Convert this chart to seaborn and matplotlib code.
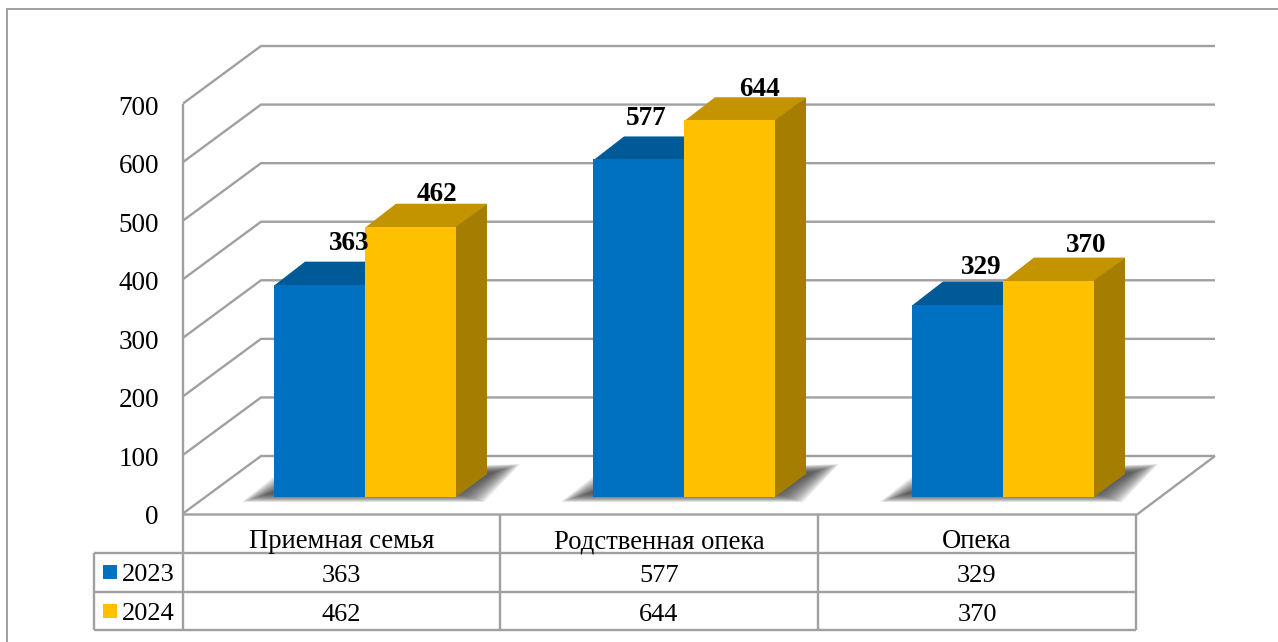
import numpy as np
import pandas as pd
import seaborn as sns
from matplotlib import pyplot as plt
from matplotlib.patches import Polygon, Rectangle

categories = ['Приемная семья', 'Родственная опека', 'Опека']
years = ['2023', '2024']
values_2023 = [363, 577, 329]
values_2024 = [462, 644, 370]
y_ticks = [0, 100, 200, 300, 400, 500, 600, 700]

# hand placed label offsets from the middle of each bar top, in pixels
label_dx = [[30, 8, 24], [26, 30, 38]]
label_dy = [[41, 41, 37], [32, 31, 35]]

BLUE = ['#0070C0', '#005A97', '#00538C']
YELLOW = ['#FFC000', '#C49300', '#A57D00']
GRID = '#A0A0A0'
SERIF = 'Liberation Serif'

W, H = 1278, 642
sns.set_style('white')
plt.rcParams['font.family'] = [SERIF, 'DejaVu Sans']

df = pd.DataFrame({
    'category': categories * 2,
    'year': [years[0]] * 3 + [years[1]] * 3,
    'value': values_2023 + values_2024,
})

fig = plt.figure(figsize=(W / 100, H / 100), dpi=100)

# background layer in pixel coordinates: frame, walls, data table
bg = fig.add_axes([0, 0, 1, 1], zorder=0)
bg.set_xlim(0, W)
bg.set_ylim(H, 0)
bg.axis('off')


def line(xs, ys, lw=1.7):
    bg.plot(xs, ys, color=GRID, lw=lw, solid_joinstyle='miter', solid_capstyle='butt')


line([7, 7, W], [H, 9, 9], lw=1.4)

FRONT_X, BACK_X, RIGHT_X, TABLE_R = 183, 261, 1215, 1137
for v in y_ticks:
    yf = 513.5 - 0.5857 * v
    line([FRONT_X, BACK_X, RIGHT_X], [yf, yf - 57.5, yf - 57.5])
    bg.text(159, yf + 4.5, str(v), ha='right', va='center', fontsize=19.5, color='black')
line([FRONT_X, FRONT_X], [103.5, 630])
line([FRONT_X, TABLE_R, RIGHT_X], [514.5, 514.5, 456])

# data table
col_x = [183, 500, 818, 1136]
row_y = [514.5, 553, 592, 630]
for x in col_x[1:]:
    line([x, x], [row_y[0], row_y[3]])
line([94, 1136], [row_y[1], row_y[1]])
line([94, 1136], [row_y[2], row_y[2]])
line([94, 1136], [row_y[3], row_y[3]])
line([94, 94], [row_y[1], row_y[3]])

for i, name in enumerate(categories):
    xc = (col_x[i] + col_x[i + 1]) / 2
    bg.text(xc, 542, name, ha='center', va='center', fontsize=19.2, color='black')
    bg.text(xc, 576, str(values_2023[i]), ha='center', va='center', fontsize=19, color='black')
    bg.text(xc, 615, str(values_2024[i]), ha='center', va='center', fontsize=19, color='black')

for yr, color, yc in zip(years, [BLUE[0], YELLOW[0]], [572, 611]):
    bg.add_patch(Rectangle((103, yc - 7), 14, 14, color=color, lw=0))
    bg.text(122, yc + 3, yr, ha='left', va='center', fontsize=19, color='black')

# bars on their own axes so the value scale comes from matplotlib
CAT_PX = 319
VAL_PX = 0.585
left_px = 365 - CAT_PX / 2
right_px = left_px + 3 * CAT_PX
ax = fig.add_axes([left_px / W, (H - 497) / H, (right_px - left_px) / W, 700 * VAL_PX / H],
                  zorder=1)
ax.patch.set_alpha(0)
sns.barplot(data=df, x='category', y='value', hue='year', hue_order=years,
            palette=[BLUE[0], YELLOW[0]], width=182 / CAT_PX, gap=0, saturation=1,
            legend=False, ax=ax, zorder=5)
ax.set_xlim(-0.5, 2.5)
ax.set_ylim(0, 700)
ax.axis('off')

depth_x = 31 / CAT_PX
depth_y = 23 / VAL_PX
px_x = 1 / CAT_PX
px_y = 1 / VAL_PX

# soft floor shadow under each pair of bars
for i in range(3):
    x0 = i - 91 * px_x
    x1 = i + 91 * px_x
    for step in range(16):
        ix, iy = step * 1.7 * px_x, step * 0.55 * px_y
        pts = [(x0 - 32 * px_x + ix, -5 * px_y + iy),
               (x0 + 6 * px_x + ix, 25 * px_y - iy),
               (x1 + 64 * px_x - ix, 33 * px_y - iy),
               (x1 + 28 * px_x - ix, -5 * px_y + iy)]
        ax.add_patch(Polygon(pts, closed=True, color='#404040', alpha=0.1, lw=0,
                             zorder=1, clip_on=False))

# top and side faces from the drawn bars
for k, (cont, shades) in enumerate(zip(ax.containers, [BLUE, YELLOW])):
    for i, bar in enumerate(cont):
        x0 = bar.get_x()
        x1 = x0 + bar.get_width()
        h = bar.get_height()
        z = 2 + 3 * k
        ax.add_patch(Polygon([(x0, h - px_y), (x0 + depth_x, h + depth_y),
                              (x1 + depth_x, h + depth_y), (x1, h - px_y)],
                             closed=True, color=shades[1], lw=0, zorder=z, clip_on=False))
        ax.add_patch(Polygon([(x1, 0), (x1 + depth_x, depth_y),
                              (x1 + depth_x, h + depth_y), (x1, h)],
                             closed=True, color=shades[2], lw=0, zorder=z, clip_on=False))
        bar.set_zorder(z + 1)
        bar.set_linewidth(0)
        ax.annotate(str(int(h)), xy=((x0 + x1) / 2, h),
                    xytext=(label_dx[k][i], label_dy[k][i]), textcoords='offset pixels',
                    ha='center', va='center', fontsize=19.5, fontweight='bold',
                    color='black', zorder=20, annotation_clip=False)

fig.savefig('out.png', dpi=100)
plt.close(fig)
